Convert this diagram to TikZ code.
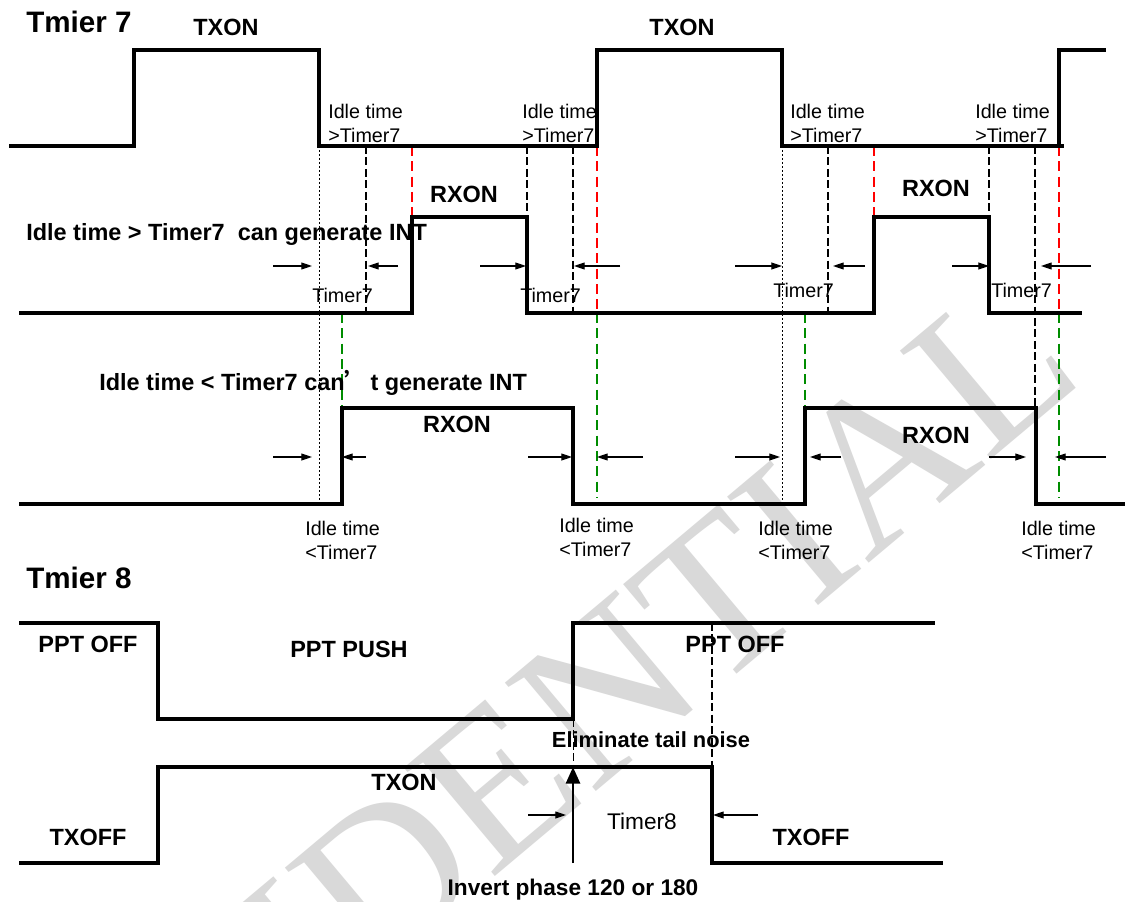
\documentclass[tikz,border=0pt]{standalone}
\usepackage{fontspec}
\setmainfont{Liberation Sans}
\newfontfamily\wmfont{Liberation Serif}
\newfontfamily\cjkfont{Noto Sans CJK SC}
\usetikzlibrary{arrows.meta}
\definecolor{grn}{RGB}{0,140,0}
\begin{document}
\begin{tikzpicture}[x=0.75pt,y=-0.75pt,
  sig/.style={line width=2.4pt},
  blkd/.style={line width=0.8pt,dash pattern=on 6pt off 2.6pt},
  fine/.style={line width=0.5pt,dash pattern=on 1.6pt off 1.4pt},
  redd/.style={draw=red,line width=1.1pt,dash pattern=on 7.5pt off 4pt},
  grnd/.style={draw=grn,line width=1.1pt,dash pattern=on 7.5pt off 4pt},
  arr/.style={line width=0.9pt,-{Triangle[length=8pt,width=5.2pt]}},
  bigarr/.style={line width=2.2pt,-{Triangle[length=12.5pt,width=10.5pt]}},
  ttl/.style={font=\bfseries\fontsize{22.2}{26}\selectfont,inner sep=0pt},
  lbl/.style={font=\bfseries\fontsize{17.6}{21}\selectfont,inner sep=0pt},
  sm/.style={font=\fontsize{14.8}{18}\selectfont,inner sep=0pt},
  tm/.style={font=\fontsize{17}{20}\selectfont,inner sep=0pt},
  wm/.style={font=\wmfont\fontsize{162}{170}\selectfont,text=black!15,inner sep=0pt}
]
\useasboundingbox (0,0) rectangle (1127,902);
\fill[white] (0,0) rectangle (1127,902);
% watermark
\begin{scope}
\clip (0,0) rectangle (1127,902);
\node[wm,rotate=40] (wmark) at (436,834) {CONFIDENTIAL};
\end{scope}

% ---------- Timer 7 ----------
\node[ttl,anchor=base west] (t7) at (26,33) {Tmier 7};
\node[lbl,anchor=base] (txon1) at (226,36) {TXON};
\node[lbl,anchor=base] (txon2) at (682,36) {TXON};

% dashed guides
\draw[fine] (319,146) -- (319,504);
\draw[fine] (782,146) -- (782,504);
\draw[blkd] (366,146) -- (366,313);
\draw[blkd] (527,146) -- (527,217);
\draw[blkd] (573,146) -- (573,313);
\draw[blkd] (828,146) -- (828,313);
\draw[blkd] (989,146) -- (989,217);
\draw[blkd] (1035,146) -- (1035,408);
\draw[redd] (412,146) -- (412,217);
\draw[redd] (597,146) -- (597,313);
\draw[redd] (874,146) -- (874,217);
\draw[redd] (1059,146) -- (1059,313);
\draw[grnd] (342,313) -- (342,408);
\draw[grnd] (597,313) -- (597,498);
\draw[grnd] (805,313) -- (805,408);
\draw[grnd] (1059,313) -- (1059,498);

% TX signal
\draw[sig] (9,146) -- (134,146) -- (134,50) -- (319,50) -- (319,146) -- (597,146)
  -- (597,50) -- (782,50) -- (782,146) -- (1064,146);
\draw[sig] (1059,146) -- (1059,50) -- (1106,50);

% idle labels (top)
\foreach \xx/\nm in {328/a,522/b,790/c,975/d}{
  \node[sm,anchor=base west] (itu\nm) at (\xx,119) {Idle time};
  \node[sm,anchor=base west] (ttu\nm) at (\xx,143) {>Timer7};
}

% RX signal (can generate)
\node[lbl,anchor=base] (rxu1) at (464,203) {RXON};
\node[lbl,anchor=base] (rxu2) at (936,197) {RXON};
\node[lbl,anchor=base west] (gen) at (26,241) {Idle time > Timer7~ can generate INT};
\draw[sig] (19,313) -- (412,313) -- (412,217) -- (527,217) -- (527,313) -- (874,313)
  -- (874,217) -- (989,217) -- (989,313) -- (1082,313);

% arrows row 1
\foreach \a/\b in {273/312,398/368,480/526,620/574,735/782,865/833,952/989,1091/1041}{
  \draw[arr] (\a,266) -- (\b,266);
}
\node[sm,anchor=base west] (tm1) at (312,302) {Timer7};
\node[sm,anchor=base west] (tm2) at (520,302) {Timer7};
\node[sm,anchor=base west] (tm3) at (773,297) {Timer7};
\node[sm,anchor=base west] (tm4) at (991,297) {Timer7};

% RX signal (cannot generate)
\node[lbl,anchor=base west] (nogen) at (99,390) {Idle time < Timer7 can{\cjkfont ’}\hspace{0.1em}t generate INT};
\node[lbl,anchor=base] (rxl1) at (457,432) {RXON};
\node[lbl,anchor=base] (rxl2) at (936,443) {RXON};
\draw[sig] (19,504) -- (342,504) -- (342,408) -- (573,408) -- (573,504) -- (805,504)
  -- (805,408) -- (1036,408) -- (1036,504) -- (1125,504);

% arrows row 2
\foreach \a/\b in {273/312,366/342,528/572,643/597,735/780,841/810,989/1026,1106/1055}{
  \draw[arr] (\a,457) -- (\b,457);
}

% idle labels (bottom)
\node[sm,anchor=base west] (ila) at (305,535) {Idle time};
\node[sm,anchor=base west] (tla) at (305,559) {<Timer7};
\node[sm,anchor=base west] (ilb) at (559,532) {Idle time};
\node[sm,anchor=base west] (tlb) at (559,556) {<Timer7};
\node[sm,anchor=base west] (ilc) at (758,535) {Idle time};
\node[sm,anchor=base west] (tlc) at (758,559) {<Timer7};
\node[sm,anchor=base west] (ild) at (1021,535) {Idle time};
\node[sm,anchor=base west] (tld) at (1021,559) {<Timer7};

% ---------- Timer 8 ----------
\node[ttl,anchor=base west] (t8) at (26,588) {Tmier 8};
\node[lbl,anchor=base] (pptoff1) at (88,652) {PPT OFF};
\node[lbl,anchor=base] (pptpush) at (349,657) {PPT PUSH};
\node[lbl,anchor=base] (pptoff2) at (735,652) {PPT OFF};
\draw[blkd] (712,623) -- (712,767);
\draw[blkd,line width=0.6pt] (573,719) -- (573,767);
\draw[sig] (19,623) -- (158,623) -- (158,719) -- (573,719) -- (573,623) -- (935,623);
\node[lbl,anchor=base,font=\bfseries\fontsize{16.4}{20}\selectfont] (elim) at (651,747) {Eliminate tail noise};
\draw[sig] (19,863) -- (158,863) -- (158,767) -- (712,767) -- (712,863) -- (943,863);
\node[lbl,anchor=base] (txon3) at (404,790) {TXON};
\node[lbl,anchor=base] (txoff1) at (88,845) {TXOFF};
\node[lbl,anchor=base] (txoff2) at (811,845) {TXOFF};
\node[tm,anchor=base] (tm8) at (642,829) {Timer8};
\coordinate (invb) at (573,863);
\coordinate (invt) at (573,767);
\draw[bigarr] (invb) -- (invt);
\draw[arr] (528,815) -- (566,815);
\draw[arr] (758,815) -- (713,815);
\node[lbl,anchor=base,font=\bfseries\fontsize{17}{20}\selectfont] (inv) at (573,895) {Invert phase 120 or 180};
\end{tikzpicture}
\end{document}
